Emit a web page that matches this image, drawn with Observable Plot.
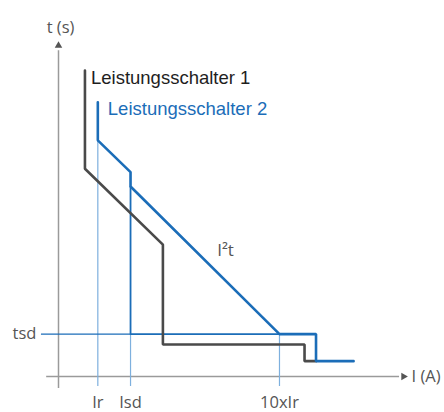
<!DOCTYPE html>
<html>
<head>
<meta charset="utf-8">
<script src="https://cdn.jsdelivr.net/npm/d3@7"></script>
<script src="https://cdn.jsdelivr.net/npm/@observablehq/plot@0.6"></script>
<style>
  html, body { margin: 0; padding: 0; background: #fff; }
  #chart svg { display: block; }
</style>
</head>
<body>
<div id="chart"></div>
<script>
// Schematic units (current axis 0..100, time axis 0..100)
const I_r = 11.3;     // Ir
const I_sd = 20.7;    // Isd
const I_10r = 63.5;   // 10xIr
const t_sd = 12.7;    // tsd

const s1Name = "Leistungsschalter 1";
const s1I = [7.6, 7.6, 30.0, 30.0, 70.7, 70.7, 74.0];
const s1T = [91.6, 62.2, 39.5, 9.6, 9.6, 4.6, 4.6];

const s2Name = "Leistungsschalter 2";
const s2I = [I_r, I_r, I_sd, I_sd, I_10r, 74.0, 74.0, 84.8];
const s2T = [82.1, 70.7, 61.2, 56.9, t_sd, t_sd, 4.6, 4.6];

// short-time branch of curve 2
const stI = [I_sd, I_sd, I_10r];
const stT = [56.9, t_sd, t_sd];

const xTickValues = [I_r, I_sd, I_10r];
const xTickLabels = ["Ir", "Isd", "10xIr"];
const xTickTops = [70.7, t_sd, t_sd];
const yTickValues = [t_sd];
const yTickLabels = ["tsd"];

const xAxisLabel = "I (A)";
const yAxisLabel = "t (s)";
const i2tLabel = "I²t";

const axisMin = -3.4;
const tsdStart = -4.9;

const s1 = s1I.map((v, i) => ({I: v, t: s1T[i]}));
const s2 = s2I.map((v, i) => ({I: v, t: s2T[i]}));
const st = stI.map((v, i) => ({I: v, t: stT[i]}));
const xt = xTickValues.map((v, i) => ({I: v, label: xTickLabels[i], top: xTickTops[i], base: 0}));

const BLUE = "#1b6db8";
const LIGHT = "#7eb0de";
const DARK = "#4a4a4a";
const AXIS = "#9a9a9a";
const LABEL = "#555";

const chart = Plot.plot({
  width: 444,
  height: 412,
  margin: 0,
  x: {domain: [0, 100], range: [58, 406], axis: null},
  y: {domain: [0, 100], range: [376, 42], axis: null},
  style: {fontFamily: "'Open Sans', sans-serif", background: "#fff", overflow: "visible"},
  marks: [
    // axes
    Plot.ruleY([0], {x1: axisMin, x2: 98, stroke: AXIS, strokeWidth: 1.5}),
    Plot.ruleX([0], {y1: -3.6, y2: 97.5, stroke: AXIS, strokeWidth: 1.5}),
    Plot.dot([{I: 100, t: 0}], {x: "I", y: "t", symbol: "triangle2", r: 3.6, fill: LABEL, rotate: 90, dx: -3}),
    Plot.dot([{I: 0, t: 100}], {x: "I", y: "t", symbol: "triangle2", r: 3.6, fill: LABEL, dy: 3}),
    // thin reference lines
    Plot.ruleX(xt, {x: "I", y1: -3.0, y2: "top", stroke: LIGHT, strokeWidth: 1.2}),
    Plot.ruleY(yTickValues, {x1: tsdStart, x2: I_sd, stroke: BLUE, strokeWidth: 1.2}),
    // short-time branch
    Plot.line(st, {x: "I", y: "t", stroke: BLUE, strokeWidth: 1.8}),
    // curves
    Plot.line(s1, {x: "I", y: "t", stroke: DARK, strokeWidth: 2.6, strokeLinejoin: "miter"}),
    Plot.line(s2, {x: "I", y: "t", stroke: BLUE, strokeWidth: 2.6, strokeLinejoin: "miter"}),
    // curve labels
    Plot.text([s1[0]], {x: "I", y: "t", text: [s1Name], textAnchor: "start", dx: 6, dy: 8,
      fill: "#1e1e1e", fontSize: 18.5, fontFamily: "'Liberation Sans', Arial, sans-serif"}),
    Plot.text([s2[0]], {x: "I", y: "t", text: [s2Name], textAnchor: "start", dx: 10, dy: 7,
      fill: BLUE, fontSize: 18.5, fontFamily: "'Liberation Sans', Arial, sans-serif"}),
    Plot.text([{I: 48, t: 37.7}], {x: "I", y: "t", text: [i2tLabel], fill: LABEL, fontSize: 17}),
    // tick labels
    Plot.text(xt, {x: "I", y: "base", text: "label", dy: 26, fill: LABEL, fontSize: 16.5}),
    Plot.text(yTickValues.map((v, i) => ({I: tsdStart, t: v, label: yTickLabels[i]})),
      {x: "I", y: "t", text: "label", textAnchor: "end", dx: -5, fill: LABEL, fontSize: 16.5}),
    // axis labels
    Plot.text([{I: 100, t: 0}], {x: "I", y: "t", text: [xAxisLabel], textAnchor: "start", dx: 5, fill: LABEL, fontSize: 16.5}),
    Plot.text([{I: 0, t: 100}], {x: "I", y: "t", text: [yAxisLabel], dx: 2, dy: -15, fill: LABEL, fontSize: 16.5})
  ]
});
document.getElementById("chart").appendChild(chart);
</script>
</body>
</html>
